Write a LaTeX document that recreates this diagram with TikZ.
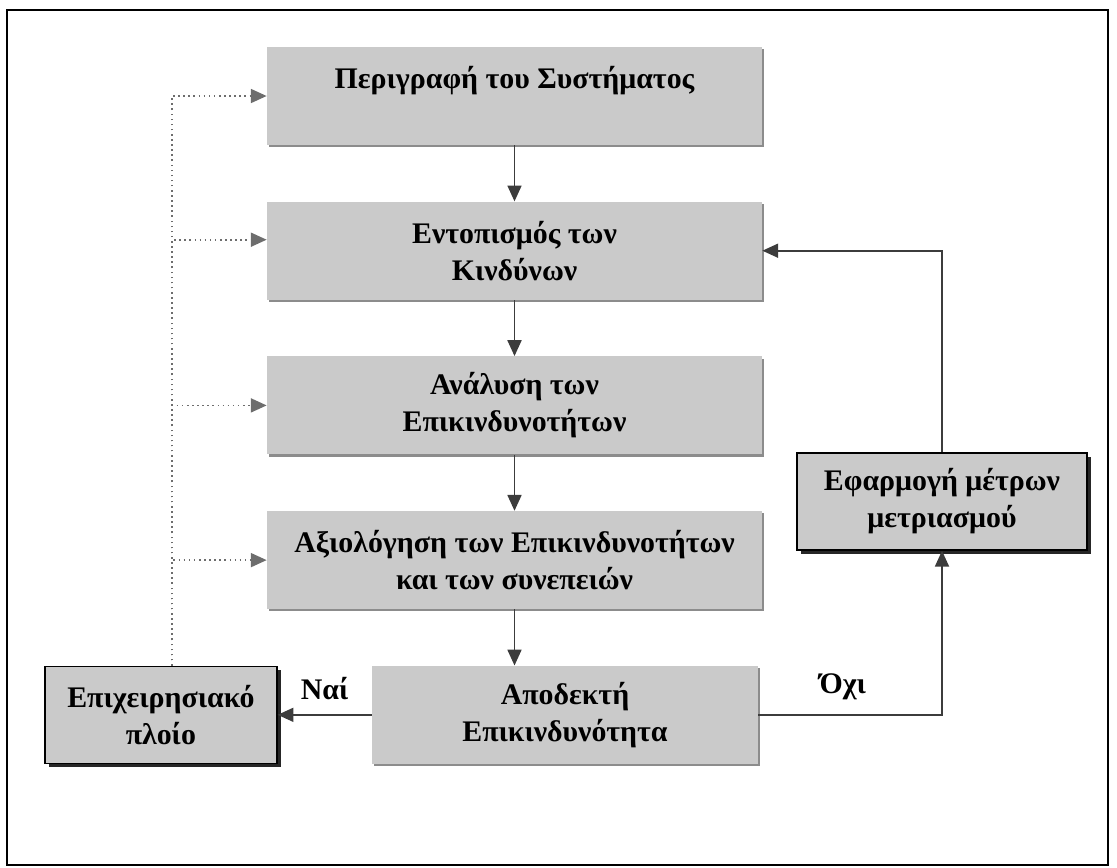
\documentclass[tikz,border=0pt]{standalone}
\usepackage{fontspec}
\setmainfont{Liberation Serif}
\usepackage{xcolor}
\usepackage{tikz}
\usetikzlibrary{positioning,arrows.meta,shadows}
\definecolor{boxgray}{HTML}{CACACA}
\definecolor{linegray}{HTML}{3C3C3C}

\begin{document}
\begin{tikzpicture}[
    >={Triangle[length=9pt,width=8pt]},
    every node/.style={align=center,
                       font=\fontsize{17}{21}\selectfont\bfseries},
    stepbox/.style={rectangle, fill=boxgray,
                    drop shadow={shadow xshift=1.2pt, shadow yshift=-1.2pt,
                                 fill=black!45, opacity=1},
                    minimum width=9.9cm, minimum height=1.96cm},
    sidebox/.style={rectangle, fill=boxgray, draw=black, line width=0.9pt,
                    drop shadow={shadow xshift=2.2pt, shadow yshift=-2.2pt,
                                 fill=black!85, opacity=1},
                    minimum height=1.94cm},
    link/.style={->, draw=linegray, line width=0.9pt},
    back/.style={->, draw=linegray!75, dotted, line width=0.9pt}
]
\useasboundingbox (0,0) rectangle (22.34,-17.34);
\draw[line width=1.2pt] (0.14,-0.2) rectangle (22.16,-17.3);

\node[stepbox] (perigrafi) at (10.29,-1.92) {Περιγραφή του Συστήματος\\~};
\node[stepbox] (entopismos) [below=1.12cm of perigrafi] {Εντοπισμός των\\Κινδύνων};
\node[stepbox] (analysi) [below=1.12cm of entopismos] {Ανάλυση των\\Επικινδυνοτήτων};
\node[stepbox] (axiologisi) [below=1.12cm of analysi] {Αξιολόγηση των Επικινδυνοτήτων\\και των συνεπειών};
\node[stepbox, minimum width=7.72cm] (apodekti)
    [below=1.12cm of axiologisi.south east, anchor=north east, xshift=-0.08cm]
    {Αποδεκτή\\Επικινδυνότητα};
\node[sidebox, minimum width=4.64cm] (ploio) [left=1.88cm of apodekti] {Επιχειρησιακό\\πλοίο};
\node[sidebox, minimum width=5.8cm] (metra) at (18.84,-10.03) {Εφαρμογή μέτρων\\μετριασμού};

\draw[link] (perigrafi) -- (entopismos);
\draw[link] (entopismos) -- (analysi);
\draw[link] (analysi) -- (axiologisi);
\draw[link] (axiologisi.south) -- (axiologisi.south |- apodekti.north);
\draw[link] (apodekti) -- node[above=5pt] (nai) {Ναί} (ploio);
\draw[link] (apodekti.east) -| node[pos=0.23, above=5pt] (ochi) {Όχι} (metra.south);
\draw[link] (metra.north) |- (entopismos.east);

% feedback from the operating ship
\draw[back] ([xshift=0.22cm]ploio.north) |- (perigrafi.west);
\draw[back] ([xshift=0.22cm]ploio.north) |- ([yshift=0.22cm]entopismos.west);
\draw[back] ([xshift=0.22cm]ploio.north) |- (analysi.west);
\draw[back] ([xshift=0.22cm]ploio.north) |- (axiologisi.west);
\end{tikzpicture}
\end{document}
